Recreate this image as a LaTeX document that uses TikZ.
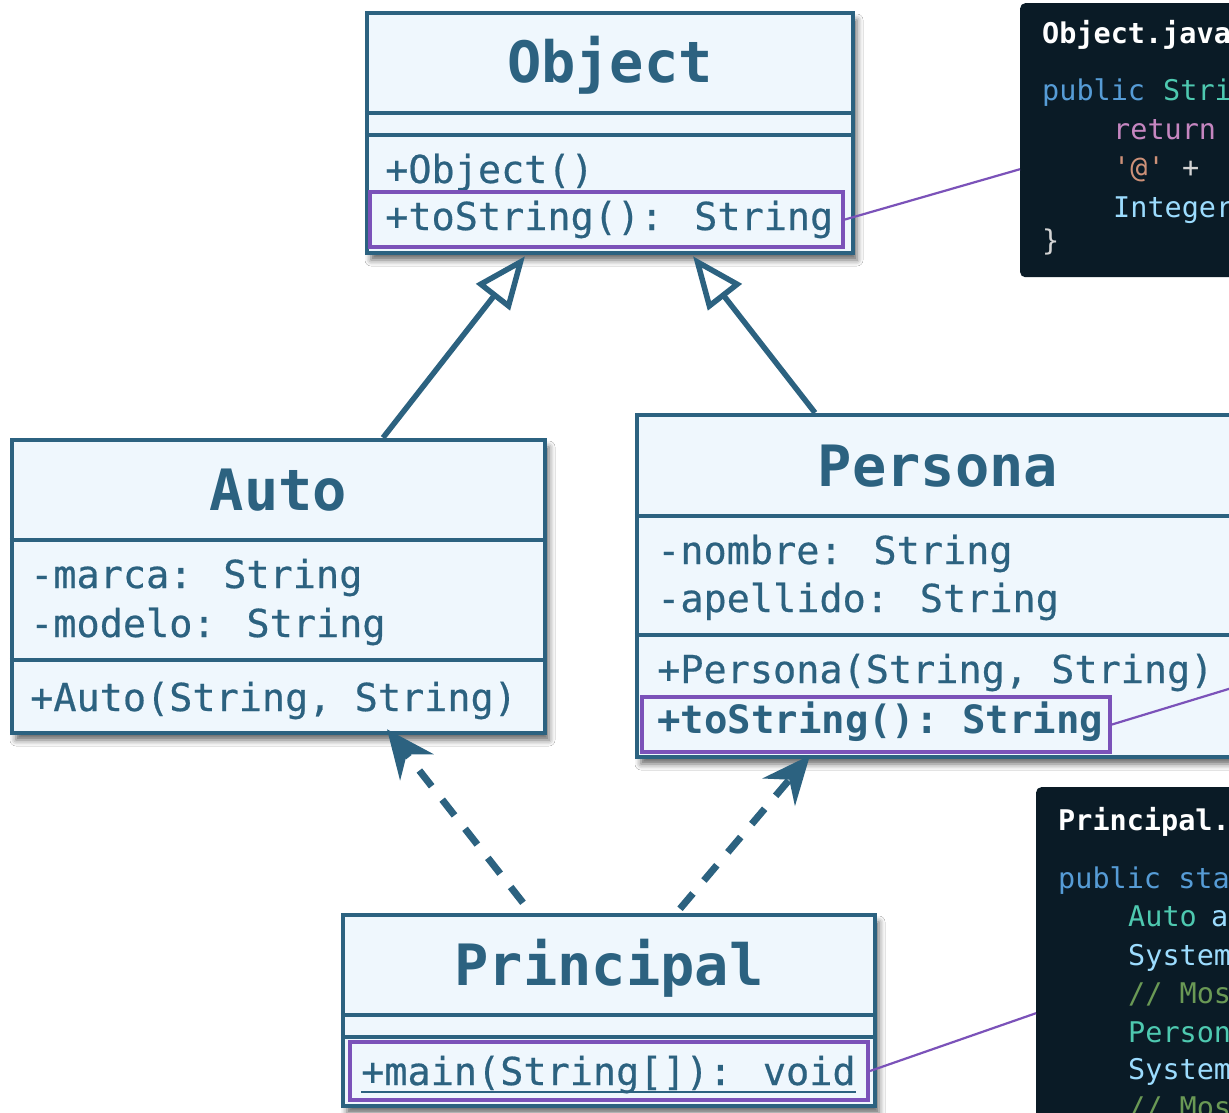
\documentclass[tikz,border=0pt]{standalone}
\usepackage{fontspec}
\setmonofont{DejaVu Sans Mono}
\newfontfamily\memberfont{DejaVu Sans Mono}[FakeBold=0.5]
\usetikzlibrary{arrows.meta,shadows.blur,calc}

\definecolor{umlink}{RGB}{44,98,128}
\definecolor{umlfill}{RGB}{239,247,253}
\definecolor{hlpurple}{RGB}{123,82,185}
\definecolor{codebg}{RGB}{10,27,38}
\definecolor{ckw}{RGB}{86,156,214}
\definecolor{ctype}{RGB}{78,201,176}
\definecolor{cret}{RGB}{197,134,192}
\definecolor{cstr}{RGB}{206,145,120}
\definecolor{cplain}{RGB}{212,212,212}
\definecolor{cvar}{RGB}{156,220,254}
\definecolor{ccom}{RGB}{106,153,85}

\tikzset{
  classbox/.style={draw=umlink, fill=umlfill, line width=4.5pt, inner sep=0pt,
    blur shadow={shadow xshift=4pt, shadow yshift=-7pt, shadow blur radius=6pt, shadow opacity=60}},
  divider/.style={draw=umlink, line width=4pt},
  classname/.style={text=umlink, font=\ttfamily\bfseries\fontsize{57}{66}\selectfont, anchor=base, inner sep=0pt},
  member/.style={text=umlink, font=\memberfont\fontsize{38.5}{46}\selectfont, anchor=base west, inner sep=0pt},
  hlbox/.style={draw=hlpurple, line width=4pt, inner sep=0pt},
  callout/.style={draw=hlpurple, line width=2.2pt},
  inherit/.style={draw=umlink, line width=5.5pt,
    -{Triangle[length=52pt, width=42pt, fill=white, line join=miter]}},
  depend/.style={draw=umlink, line width=7pt, dash pattern=on 20pt off 17pt,
    -{Stealth[length=48pt, width=42pt, inset=16pt]}},
  codepanel/.style={fill=codebg, rounded corners=5pt, inner sep=0pt},
  codeline/.style={font=\ttfamily\fontsize{28.5}{34}\selectfont, anchor=base west, inner sep=0pt},
}

\begin{document}
\begin{tikzpicture}[x=1pt, y=-1pt]
\useasboundingbox (0,0) rectangle (1229,1113);
\fill[white] (0,0) rectangle (1229,1113);
\clip (0,0) rectangle (1229,1113);

% ---------- class Object ----------
\node[classbox, minimum width=486pt, minimum height=240pt] (object) at (610,133) {};
\draw[divider] (object.west |- 0,113) -- (object.east |- 0,113);
\draw[divider] (object.west |- 0,135) -- (object.east |- 0,135);
\node[classname] (objname) at (610,83) {Object};
\node[member] (objm1) at (385,183) {+Object()};
\node[member] (objm2) at (385,230) {+toString(): String};
\node[hlbox, minimum width=473pt, minimum height=55pt] (objhl) at (606.5,219.5) {};

% ---------- class Auto ----------
\node[classbox, minimum width=533pt, minimum height=293pt] (auto) at (278.5,586.5) {};
\draw[divider] (auto.west |- 0,540) -- (auto.east |- 0,540);
\draw[divider] (auto.west |- 0,660) -- (auto.east |- 0,660);
\node[classname] (autoname) at (278.5,510) {Auto};
\node[member] (autoa1) at (30,588) {-marca: String};
\node[member] (autoa2) at (30,637) {-modelo: String};
\node[member] (autom1) at (30,711) {+Auto(String, String)};

% ---------- class Persona ----------
\node[classbox, minimum width=602pt, minimum height=342pt] (persona) at (938,586) {};
\draw[divider] (persona.west |- 0,516) -- (persona.east |- 0,516);
\draw[divider] (persona.west |- 0,635) -- (persona.east |- 0,635);
\node[classname] (persname) at (938,486) {Persona};
\node[member] (persa1) at (657,564) {-nombre: String};
\node[member] (persa2) at (657,612) {-apellido: String};
\node[member] (persm1) at (657,683) {+Persona(String, String)};
\node[member, font=\ttfamily\bfseries\fontsize{39}{46}\selectfont] (persm2) at (657,733) {+toString(): String};
\node[hlbox, minimum width=468pt, minimum height=55pt] (pershl) at (876,724.5) {};

% ---------- class Principal ----------
\node[classbox, minimum width=532pt, minimum height=191pt] (principal) at (609,1010.5) {};
\draw[divider] (principal.west |- 0,1015) -- (principal.east |- 0,1015);
\draw[divider] (principal.west |- 0,1037) -- (principal.east |- 0,1037);
\node[classname] (princname) at (609,985) {Principal};
\node[member] (princm1) at (361,1085) {+main(String[]): void};
\draw[draw=umlink, line width=2pt] ([yshift=-7pt]princm1.base west) -- ([yshift=-7pt]princm1.base east);
\node[hlbox, minimum width=518pt, minimum height=58pt] (princhl) at (609,1071) {};

% ---------- relations ----------
\draw[inherit] ([xshift=104.5pt]auto.north) -- ([xshift=-85pt,yshift=-1pt]object.south);
\draw[inherit] ([xshift=-123pt]persona.north) -- ([xshift=83pt,yshift=-1pt]object.south);
\draw[depend] ([xshift=-86pt,yshift=10pt]principal.north) -- ([xshift=108.5pt,yshift=6pt]auto.south);
\draw[depend] ([xshift=71pt,yshift=4pt]principal.north) -- ([xshift=-128pt,yshift=4pt]persona.south);

% ---------- code panels ----------
\node[codepanel, minimum width=240pt, minimum height=274pt, anchor=north west] (code1) at (1020,3) {};
\node[codeline, text=white, font=\ttfamily\bfseries\fontsize{28.5}{34}\selectfont] (c1t) at (1042,44) {Object.java};
\node[codeline, text=ckw] (c1a) at (1042,101) {public};
\node[codeline, text=ctype] (c1b) at (1163,101) {Stri};
\node[codeline, text=cret] (c1c) at (1113,140) {return};
\node[codeline, text=cstr] (c1d) at (1113,178) {'@'};
\node[codeline, text=cplain] (c1e) at (1182,178) {+};
\node[codeline, text=cvar] (c1f) at (1113,217) {Integer};
\node[codeline, text=cplain] (c1g) at (1042,250) {\}};

\node[codepanel, minimum width=230pt, minimum height=340pt, anchor=north west] (code2) at (1036,787) {};
\node[codeline, text=white, font=\ttfamily\bfseries\fontsize{28.5}{34}\selectfont] (c2t) at (1058,830) {Principal.};
\node[codeline, text=ckw] (c2a) at (1058,888) {public sta};
\node[codeline, text=ctype] (c2b) at (1128,926) {Auto};
\node[codeline, text=cvar] (c2c) at (1211,926) {a};
\node[codeline, text=cvar] (c2d) at (1128,965) {System};
\node[codeline, text=ccom] (c2e) at (1128,1003) {// Mos};
\node[codeline, text=ctype] (c2f) at (1128,1042) {Person};
\node[codeline, text=cvar] (c2g) at (1128,1079) {System};
\node[codeline, text=ccom] (c2h) at (1128,1117) {// Mos};

% ---------- callouts ----------
\coordinate (perscode) at (1245,684);
\draw[callout] (objhl.east) -- ([yshift=-29pt]code1.west);
\draw[callout] (pershl.east) -- (perscode);
\draw[callout] (princhl.east) -- ([yshift=-56pt]code2.west);
\end{tikzpicture}
\end{document}
